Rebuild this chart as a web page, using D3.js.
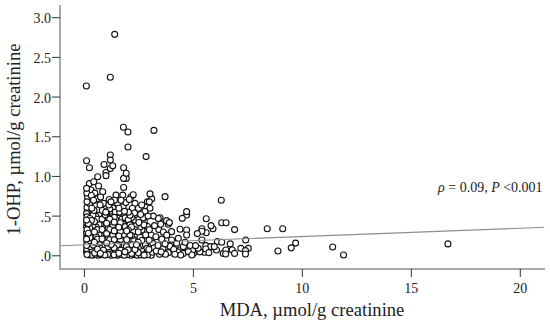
<!DOCTYPE html>
<html><head><meta charset="utf-8">
<script src="https://cdn.jsdelivr.net/npm/d3@7"></script>
<style>html,body{margin:0;padding:0;background:#fff}svg{display:block}text{font-family:"Liberation Serif",serif;fill:#222}</style>
</head><body><svg id="c" width="550" height="326"></svg>
<script>
const xTicks=[0,5,10,15,20];
const yTicks=[0,0.5,1,1.5,2,2.5,3];
const yTickLabels=[".0",".5","1.0","1.5","2.0","2.5","3.0"];
const xTitle="MDA, µmol/g creatinine";
const yTitle="1-OHP, µmol/g creatinine";
const fitLine=[[-1.1,0.127],[21.1,0.359]];
const outliers=[[1.39,2.79],[1.19,2.25],[.09,2.14],[1.79,1.62],[2,1.56],[3.19,1.58],[2,1.37],[1.19,1.27],[2.83,1.25],[1.19,1.206],[.1,1.198],[.23,1.11],[.9,1.15],[1.3,1.135],[1.19,1.1],[.99,1.05],[.99,1.01],[1.8,1.11],[1.92,1.04],[1.8,.975],[1.92,.975],[1.8,.86],[.61,.996],[.43,.933],[.23,.91],[.65,.88],[.1,.85],[.3,.83],[.84,.807],[2.24,.77],[2.14,.744],[1.45,.765],[1.76,.765],[1.14,.71]];
const farPoints=[[6.28,.7],[5.59,.467],[6.3,.417],[6.5,.417],[5.81,.38],[5.9,.34],[5.39,.34],[5.39,.31],[5.59,.29],[5.18,.28],[6.89,.33],[8.39,.34],[9.1,.34],[7.4,.2],[5.39,.2],[6.1,.18],[6.3,.17],[6.69,.15],[9.69,.16],[9.49,.1],[8.88,.06],[11.39,.11],[11.89,.01],[16.68,.15],[5,.03],[4.96,.07],[5.1,.128],[5.22,.094],[5.3,.05],[5.5,.044],[5.57,.128],[5.57,.086],[5.71,.04],[5.79,.115],[5.96,.115],[6.06,.073],[6.37,.03],[6.48,.023],[6.49,.073],[6.78,.073],[6.89,.03],[7.18,.094],[7.39,.023],[7.39,.065],[7.52,.094]];
const midPoints=[[3.01,.78],[3.09,.72],[2.89,.68],[2.98,.68],[3.7,.745],[2.63,.64],[3.01,.6],[4.69,.556],[4.69,.514],[4.49,.472],[3.47,.48],[3.39,.47],[3.77,.443],[3.9,.418],[3.85,.397],[3.5,.397],[4.39,.334],[4.69,.325],[4.69,.262],[4,.304],[4.31,.22],[4.54,.115],[4.38,.073],[4.77,.052],[4.54,.03],[4.23,.157],[4,.2],[3.62,.3],[3.78,.26],[3.41,.33],[3.55,.21],[3.92,.12],[3.7,.15],[4.1,.08],[3.85,.04],[4.15,.02],[3.6,.09],[3.45,.02],[3.38,.13],[3.28,.24],[3.22,.38],[3.16,.5],[2.78,.56],[2.58,.52],[3.3,.06],[3.52,.05],[3.72,.02],[4.28,.05],[4.62,.17],[4.85,.13],[3.98,.16],[4.42,.01],[4.93,.01]];
const clusterTop=[[.11,.79],[.14,.74],[.12,.68],[.32,.76],[.48,.79],[.42,.7],[.24,.66],[.6,.72],[.74,.74],[.88,.66],[1,.62],[1.22,.68],[1.38,.7],[1.52,.66],[1.68,.7],[1.9,.67],[2.06,.71],[2.32,.66],[2.48,.6],[2.2,.6],[1.78,.62],[1.58,.6],[1.32,.6],[1.12,.64],[.72,.64],[.52,.63],[.34,.6],[.12,.61],[.13,.56],[.26,.55],[.44,.57],[.62,.58],[.82,.57],[.98,.55],[1.18,.56],[1.42,.55],[1.62,.55],[1.84,.56],[2.02,.55],[2.3,.54],[2.5,.46],[2.7,.48],[2.92,.5]];
const clusterEdge=[[.1,.53],[.12,.49],[.1,.45],[.11,.41],[.1,.37],[.12,.33],[.1,.29],[.11,.25],[.1,.21],[.12,.17],[.1,.13],[.11,.09],[.1,.05],[.12,.015],[.22,.012],[.37,.008],[.51,.018],[.63,.006],[.78,.014],[.94,.009],[1.07,.017],[1.22,.006],[1.36,.012],[1.52,.008],[1.67,.016],[1.83,.006],[1.96,.013],[2.13,.007],[2.27,.015],[2.43,.006],[2.58,.012],[2.74,.008],[2.9,.014],[3.07,.007]];
const clusterLow=[[.2,.05],[.34,.07],[.47,.035],[.6,.082],[.73,.03],[.87,.07],[1.01,.05],[1.13,.09],[1.28,.037],[1.41,.078],[1.58,.032],[1.7,.085],[1.86,.05],[2.01,.075],[2.17,.03],[2.32,.08],[2.47,.038],[2.63,.076],[2.79,.032],[2.96,.08],[3.12,.045],
[.27,.115],[.41,.135],[.55,.11],[.68,.15],[.81,.098],[.95,.132],[1.08,.112],[1.23,.142],[1.36,.1],[1.51,.136],[1.64,.09],[1.79,.14],[1.93,.116],[2.09,.135],[2.24,.094],[2.39,.14],[2.55,.12],[2.71,.133],[2.87,.094],[3.05,.138],[3.2,.1],
[.19,.165],[.33,.195],[.46,.17],[.6,.21],[.74,.148],[.88,.192],[1.02,.162],[1.16,.202],[1.3,.15],[1.44,.194],[1.58,.14],[1.72,.2],[1.87,.148],[2.01,.195],[2.16,.142],[2.31,.2],[2.47,.17],[2.63,.192],[2.8,.142],[2.97,.198],[3.13,.16],
[.26,.23],[.4,.258],[.54,.245],[.67,.265],[.81,.212],[.95,.258],[1.09,.215],[1.23,.266],[1.37,.204],[1.51,.26],[1.65,.196],[1.8,.265],[1.94,.202],[2.09,.26],[2.24,.196],[2.39,.265],[2.55,.234],[2.72,.258],[2.88,.198],[3.06,.262]];
const clusterHigh=[[.18,.285],[.33,.315],[.46,.3],[.6,.33],[.74,.268],[.88,.322],[1.02,.28],[1.16,.332],[1.3,.26],[1.44,.324],[1.58,.25],[1.72,.33],[1.87,.258],[2.01,.325],[2.16,.252],[2.31,.33],[2.47,.3],[2.64,.324],[2.81,.262],[2.98,.328],
[.25,.35],[.39,.38],[.53,.365],[.67,.395],[.81,.332],[.95,.388],[1.09,.346],[1.23,.396],[1.37,.314],[1.51,.39],[1.65,.306],[1.8,.395],[1.94,.312],[2.09,.39],[2.24,.306],[2.39,.395],[2.55,.362],[2.73,.39],[2.9,.37],
[.18,.405],[.32,.445],[.46,.43],[.6,.46],[.74,.398],[.88,.452],[1.02,.41],[1.16,.462],[1.3,.37],[1.44,.454],[1.58,.36],[1.72,.46],[1.87,.368],[2.01,.455],[2.16,.362],[2.31,.45],[2.5,.42],[2.75,.43],
[.25,.47],[.39,.51],[.53,.495],[.67,.525],[.81,.462],[.95,.518],[1.09,.476],[1.23,.526],[1.37,.424],[1.51,.52],[1.65,.416],[1.8,.525],[1.94,.422],[2.09,.51],[2.24,.42],
[.19,.515],[.74,.528],[1.02,.54],[1.37,.484],[1.58,.47],[1.87,.478],[2.16,.48],[.46,.545],[1.16,.59]];
const points=[...outliers,...farPoints,...midPoints,...clusterTop,...clusterHigh,...clusterLow,...clusterEdge];
const drawKey=d=>(d[0]*37.3+d[1]*91.7)%1;
const drawOrder=[...points].sort((a,b)=>drawKey(a)-drawKey(b));

const svg=d3.select("#c");
const x=d3.scaleLinear().domain([0,20]).range([84.4,520.3]);
const y=d3.scaleLinear().domain([0,3]).range([255.8,17.7]);
const axisColor="#8c8c8c";
const gx=svg.append("g").attr("transform","translate(0,269)");
gx.append("line").attr("x1",60).attr("x2",545).attr("stroke",axisColor).attr("stroke-width",1.5);
gx.selectAll("line.t").data(xTicks).join("line").attr("class","t").attr("x1",d=>x(d)).attr("x2",d=>x(d)).attr("y1",0).attr("y2",8).attr("stroke","#333");
gx.selectAll("text").data(xTicks).join("text").attr("x",d=>x(d)).attr("y",23.5).attr("text-anchor","middle").attr("font-size",14).text(d=>d);
const gy=svg.append("g");
gy.append("line").attr("x1",60).attr("x2",60).attr("y1",5).attr("y2",269.7).attr("stroke",axisColor).attr("stroke-width",1.5);
gy.selectAll("line.t").data(yTicks).join("line").attr("class","t").attr("x1",52).attr("x2",60).attr("y1",d=>y(d)).attr("y2",d=>y(d)).attr("stroke","#333");
gy.selectAll("text").data(yTicks).join("text").attr("x",51).attr("y",d=>y(d)+5.5).attr("text-anchor","end").attr("font-size",14).text((d,i)=>yTickLabels[i]);
svg.append("g").selectAll("circle").data(drawOrder).join("circle").attr("cx",d=>x(d[0])).attr("cy",d=>y(d[1])).attr("r",3).attr("fill","#fff").attr("stroke","#111").attr("stroke-width",1.1);
svg.append("line").attr("x1",x(fitLine[0][0])).attr("y1",y(fitLine[0][1])).attr("x2",x(fitLine[1][0])).attr("y2",y(fitLine[1][1])).attr("stroke","#8c8c8c").attr("stroke-width",1.1);
svg.append("text").attr("x",312).attr("y",316).attr("text-anchor","middle").attr("font-size",18.6).text(xTitle);
svg.append("text").attr("transform","translate(20,139.5) rotate(-90)").attr("text-anchor","middle").attr("font-size",18.6).text(yTitle);
const note=svg.append("text").attr("x",438).attr("y",192).attr("font-size",14);
note.append("tspan").attr("font-style","italic").text("ρ");
note.append("tspan").text(" = 0.09, ");
note.append("tspan").attr("font-style","italic").text("P");
note.append("tspan").text(" <0.001");
</script></body></html>
